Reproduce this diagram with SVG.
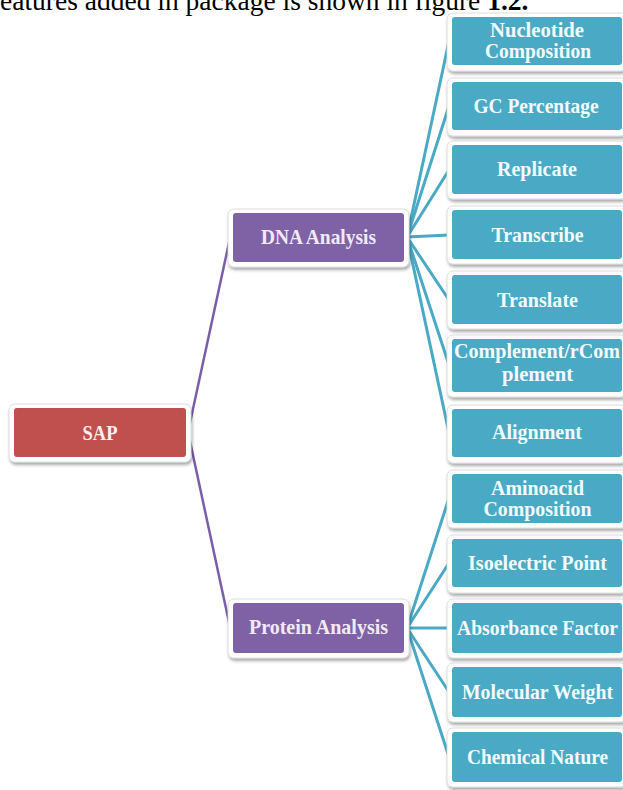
<svg xmlns="http://www.w3.org/2000/svg" width="623" height="790" viewBox="0 0 623 790">
<defs>
<filter id="sh" x="-10%" y="-20%" width="120%" height="150%">
<feDropShadow dx="1" dy="2.5" stdDeviation="1.5" flood-color="#000" flood-opacity="0.35"/>
</filter>
<style>
.frame{fill:#ffffff;stroke:#d6d6d6;stroke-width:0.8;filter:url(#sh)}
.teal{fill:#4aaac5}
.purple{fill:#7f62a6}
.red{fill:#c0504d}
.lbl{font-family:"Liberation Serif",serif;font-weight:bold;font-size:22px;text-anchor:middle}
.lt{fill:#f3fafc}
.lp{fill:#f1eaf6}
.lr{fill:#fbefee}
.ct{stroke:#4aaac5;stroke-width:3;fill:none;stroke-linecap:round}
.cp{stroke:#7a5fa8;stroke-width:2.5;fill:none;stroke-linecap:round}
.cap{font-family:"Liberation Serif",serif;font-size:27.5px;fill:#000}
</style>
</defs>
<rect width="623" height="790" fill="#ffffff"/>
<text class="cap" x="0" y="10">eatures added in package is shown in figure <tspan font-weight="bold">1.2.</tspan></text>
<g id="connectors">
<line class="cp" x1="188" y1="432" x2="230" y2="238"/>
<line class="cp" x1="188" y1="432" x2="230" y2="627"/>
<line class="ct" x1="407" y1="237" x2="449" y2="41"/>
<line class="ct" x1="407" y1="237" x2="449" y2="106"/>
<line class="ct" x1="407" y1="237" x2="449" y2="170"/>
<line class="ct" x1="407" y1="237" x2="449" y2="235"/>
<line class="ct" x1="407" y1="237" x2="449" y2="300"/>
<line class="ct" x1="407" y1="237" x2="449" y2="365"/>
<line class="ct" x1="407" y1="237" x2="449" y2="433"/>
<line class="ct" x1="407" y1="628" x2="449" y2="498"/>
<line class="ct" x1="407" y1="628" x2="449" y2="563"/>
<line class="ct" x1="407" y1="628" x2="449" y2="628"/>
<line class="ct" x1="407" y1="628" x2="449" y2="692"/>
<line class="ct" x1="407" y1="628" x2="449" y2="757"/>
</g>
<g id="sap">
<rect class="frame" x="9" y="404" width="182" height="58" rx="6"/>
<rect class="red" x="14" y="408" width="172" height="49" rx="3"/>
<text class="lbl lr" x="100" y="440" textLength="35" lengthAdjust="spacingAndGlyphs">SAP</text>
</g>
<g id="dna">
<rect class="frame" x="228" y="209" width="181" height="58" rx="6"/>
<rect class="purple" x="233" y="213" width="171" height="49" rx="3"/>
<text class="lbl lp" x="318.5" y="244" textLength="115" lengthAdjust="spacingAndGlyphs">DNA Analysis</text>
</g>
<g id="protein">
<rect class="frame" x="228" y="599" width="181" height="59" rx="6"/>
<rect class="purple" x="233" y="603" width="171" height="50" rx="3"/>
<text class="lbl lp" x="318.5" y="634" textLength="139" lengthAdjust="spacingAndGlyphs">Protein Analysis</text>
</g>
<g id="nucleotide">
<rect class="frame" x="447" y="13" width="180" height="58" rx="6"/>
<rect class="teal" x="452" y="17" width="170" height="48" rx="3"/>
<text class="lbl lt" x="537" y="37" textLength="94" lengthAdjust="spacingAndGlyphs">Nucleotide</text>
<text class="lbl lt" x="538" y="58" textLength="106" lengthAdjust="spacingAndGlyphs">Composition</text>
</g>
<g id="gc">
<rect class="frame" x="447" y="78" width="180" height="58" rx="6"/>
<rect class="teal" x="452" y="82" width="170" height="48" rx="3"/>
<text class="lbl lt" x="536" y="113" textLength="125" lengthAdjust="spacingAndGlyphs">GC Percentage</text>
</g>
<g id="replicate">
<rect class="frame" x="447" y="141" width="180" height="58" rx="6"/>
<rect class="teal" x="452" y="145" width="170" height="49" rx="3"/>
<text class="lbl lt" x="537" y="176" textLength="80" lengthAdjust="spacingAndGlyphs">Replicate</text>
</g>
<g id="transcribe">
<rect class="frame" x="447" y="206" width="180" height="58" rx="6"/>
<rect class="teal" x="452" y="210" width="170" height="49" rx="3"/>
<text class="lbl lt" x="537.5" y="242" textLength="92" lengthAdjust="spacingAndGlyphs">Transcribe</text>
</g>
<g id="translate">
<rect class="frame" x="447" y="271" width="180" height="58" rx="6"/>
<rect class="teal" x="452" y="275" width="170" height="49" rx="3"/>
<text class="lbl lt" x="537.5" y="307" textLength="81" lengthAdjust="spacingAndGlyphs">Translate</text>
</g>
<g id="complement">
<rect class="frame" x="447" y="335" width="180" height="62" rx="6"/>
<rect class="teal" x="452" y="339" width="170" height="53" rx="3"/>
<text class="lbl lt" x="537" y="358" textLength="166" lengthAdjust="spacingAndGlyphs">Complement/rCom</text>
<text class="lbl lt" x="537.5" y="381" textLength="71" lengthAdjust="spacingAndGlyphs">plement</text>
</g>
<g id="alignment">
<rect class="frame" x="447" y="405" width="180" height="58" rx="6"/>
<rect class="teal" x="452" y="409" width="170" height="48" rx="3"/>
<text class="lbl lt" x="537" y="439" textLength="90" lengthAdjust="spacingAndGlyphs">Alignment</text>
</g>
<g id="aminoacid">
<rect class="frame" x="447" y="470" width="180" height="58" rx="6"/>
<rect class="teal" x="452" y="474" width="170" height="49" rx="3"/>
<text class="lbl lt" x="537.5" y="495" textLength="93" lengthAdjust="spacingAndGlyphs">Aminoacid</text>
<text class="lbl lt" x="537.5" y="516" textLength="108" lengthAdjust="spacingAndGlyphs">Composition</text>
</g>
<g id="isoelectric">
<rect class="frame" x="447" y="535" width="180" height="58" rx="6"/>
<rect class="teal" x="452" y="539" width="170" height="48" rx="3"/>
<text class="lbl lt" x="537.5" y="570" textLength="139" lengthAdjust="spacingAndGlyphs">Isoelectric Point</text>
</g>
<g id="absorbance">
<rect class="frame" x="447" y="599" width="180" height="59" rx="6"/>
<rect class="teal" x="452" y="603" width="170" height="50" rx="3"/>
<text class="lbl lt" x="537.5" y="635" textLength="161" lengthAdjust="spacingAndGlyphs">Absorbance Factor</text>
</g>
<g id="molecular">
<rect class="frame" x="447" y="663" width="180" height="59" rx="6"/>
<rect class="teal" x="452" y="667" width="170" height="50" rx="3"/>
<text class="lbl lt" x="537.5" y="699" textLength="151" lengthAdjust="spacingAndGlyphs">Molecular Weight</text>
</g>
<g id="chemical">
<rect class="frame" x="447" y="728" width="180" height="59" rx="6"/>
<rect class="teal" x="452" y="732" width="170" height="50" rx="3"/>
<text class="lbl lt" x="537.5" y="764" textLength="141" lengthAdjust="spacingAndGlyphs">Chemical Nature</text>
</g>
</svg>
